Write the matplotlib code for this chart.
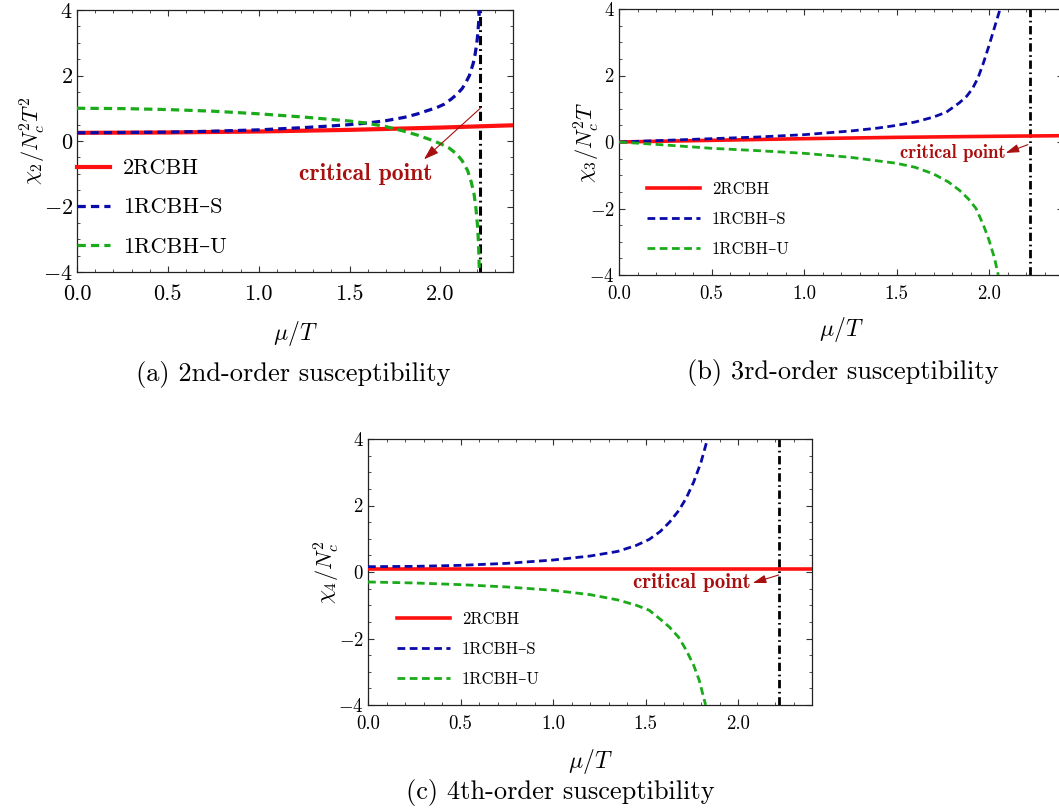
import matplotlib
matplotlib.use("Agg")
import matplotlib.pyplot as plt
import numpy as np

plt.rcParams['font.family'] = ['cmr10', 'DejaVu Serif']
plt.rcParams['mathtext.fontset'] = 'cm'
plt.rcParams['axes.formatter.use_mathtext'] = True
plt.rcParams['axes.unicode_minus'] = True

# ---- data ----
# (a) chi2 / Nc^2 T^2
a_red_x = [0.0, 0.5, 1.0, 1.5, 2.0, 2.4]
a_red_y = [0.25, 0.26, 0.29, 0.34, 0.41, 0.48]
a_blue_x = [0.0, 0.25, 0.5, 0.75, 1.0, 1.25, 1.4, 1.5, 1.6, 1.7, 1.8, 1.87, 1.93, 1.98, 2.02,
            2.06, 2.09, 2.12, 2.14, 2.16, 2.18, 2.19, 2.2, 2.205, 2.21, 2.215]
a_blue_y = [0.25, 0.26, 0.27, 0.3, 0.34, 0.41, 0.46, 0.5, 0.55, 0.62, 0.72, 0.82, 0.93, 1.02, 1.12,
            1.28, 1.42, 1.6, 1.78, 2.0, 2.35, 2.6, 2.95, 3.2, 3.55, 4.0]
a_green_x = [0.0, 0.25, 0.5, 0.75, 1.0, 1.25, 1.5, 1.6, 1.7, 1.8, 1.88, 1.95, 2.0, 2.05, 2.09,
             2.12, 2.15, 2.17, 2.185, 2.195, 2.205, 2.21, 2.215]
a_green_y = [1.0, 0.99, 0.96, 0.91, 0.83, 0.73, 0.61, 0.54, 0.44, 0.3, 0.17, 0.03, -0.08, -0.22, -0.4,
             -0.6, -0.9, -1.25, -1.6, -2.0, -2.6, -3.1, -4.0]

# (b) chi3 / Nc^2 T
b_red_x = [0.0, 0.5, 1.0, 1.5, 2.0, 2.4]
b_red_y = [0.0, 0.05, 0.1, 0.14, 0.17, 0.19]
b_blue_x = [0.0, 0.25, 0.5, 0.75, 1.0, 1.25, 1.4, 1.5, 1.6, 1.7, 1.77, 1.84, 1.88, 1.91, 1.94,
            1.97, 2.0, 2.03, 2.06]
b_blue_y = [0.0, 0.05, 0.1, 0.15, 0.22, 0.33, 0.42, 0.5, 0.6, 0.75, 0.9, 1.18, 1.38, 1.6, 1.92,
            2.38, 2.9, 3.45, 4.0]
b_green_x = [0.0, 0.25, 0.5, 0.75, 1.0, 1.25, 1.5, 1.6, 1.7, 1.78, 1.84, 1.89, 1.93, 1.97, 2.0,
             2.03, 2.05]
b_green_y = [0.0, -0.09, -0.19, -0.26, -0.34, -0.46, -0.64, -0.76, -0.96, -1.2, -1.45, -1.72, -2.0,
             -2.5, -2.95, -3.5, -4.0]

# (c) chi4 / Nc^2
c_red_x = [0.0, 0.5, 1.0, 1.5, 2.0, 2.4]
c_red_y = [0.1, 0.1, 0.1, 0.1, 0.1, 0.1]
c_blue_x = [0.0, 0.25, 0.5, 0.75, 1.0, 1.2, 1.35, 1.45, 1.52, 1.58, 1.63, 1.68, 1.72, 1.76,
            1.8, 1.835]
c_blue_y = [0.16, 0.17, 0.2, 0.26, 0.36, 0.48, 0.62, 0.8, 0.98, 1.22, 1.5, 1.85, 2.22, 2.7,
            3.3, 4.0]
c_green_x = [0.0, 0.25, 0.5, 0.75, 1.0, 1.2, 1.35, 1.45, 1.52, 1.58, 1.63, 1.68, 1.72, 1.76,
             1.79, 1.825]
c_green_y = [-0.3, -0.33, -0.38, -0.45, -0.55, -0.68, -0.84, -1.0, -1.15, -1.42, -1.66, -1.97,
             -2.35, -2.8, -3.25, -4.0]

mu_c = 2.22
labels = ['2RCBH', '1RCBH–S', '1RCBH–U']
ylabels = [r'$\chi_2/N_c^2T^2$', r'$\chi_3/N_c^2T$', r'$\chi_4/N_c^2$']
captions = ['(a) 2nd-order susceptibility', '(b) 3rd-order susceptibility',
            '(c) 4th-order susceptibility']

RED = '#ff1010'
BLUE = '#0a0aa8'
GREEN = '#1aaa1a'
DARKRED = '#a80f0f'

W, H = 1059, 809
fig = plt.figure(figsize=(W / 100, H / 100), dpi=100)


def px_axes(l, t, r, b):
    return fig.add_axes([l / W, 1 - b / H, (r - l) / W, (b - t) / H])


panels = [
    dict(box=(77, 10, 513, 272), red=(a_red_x, a_red_y), blue=(a_blue_x, a_blue_y),
         green=(a_green_x, a_green_y), fs=16, lfs=16, cfs=17, big=True,
         arrow=((2.22, 1.0), (1.91, -0.56)), text=(1.59, -1.0, 'center'),
         leg=(0.0, 0.432), cap=(293, 374), ylx=-0.067, xlp=11),
    dict(box=(619, 9, 1063, 275), red=(b_red_x, b_red_y), blue=(b_blue_x, b_blue_y),
         green=(b_green_x, b_green_y), fs=13.5, lfs=12, cfs=13.5, big=False,
         arrow=((2.21, -0.08), (2.09, -0.33)), text=(2.09, -0.33, 'right'),
         leg=(0.063, 0.351), cap=(843, 373), ylx=-0.039, xlp=9),
    dict(box=(368, 439, 812, 705), red=(c_red_x, c_red_y), blue=(c_blue_x, c_blue_y),
         green=(c_green_x, c_green_y), fs=13.5, lfs=12, cfs=15, big=False,
         arrow=((2.22, -0.09), (2.08, -0.33)), text=(2.07, -0.33, 'right'),
         leg=(0.065, 0.351), cap=(560, 793), ylx=-0.059, xlp=10),
]

for i, p in enumerate(panels):
    ax = px_axes(*p['box'])
    big = p['big']
    lw_r = 3.0 if big else 2.6
    lw_d = 2.3 if big else 2.0
    dash = (0, (2.6, 1.6)) if big else (0, (2.8, 1.6))
    ax.plot(*p['red'], color=RED, lw=lw_r, label=labels[0], zorder=3)
    ax.plot(*p['blue'], color=BLUE, lw=lw_d, ls=dash, label=labels[1], zorder=4)
    ax.plot(*p['green'], color=GREEN, lw=lw_d, ls=dash, label=labels[2], zorder=4)
    ax.axvline(mu_c, color='black', lw=2.2 if big else 2.0, ls=(0, (3.0, 1.3, 0.6, 1.3)), zorder=2)

    ax.set_xlim(0, 2.4)
    ax.set_ylim(-4, 4)
    ax.set_xticks([0, 0.5, 1.0, 1.5, 2.0])
    ax.set_xticklabels(['0.0', '0.5', '1.0', '1.5', '2.0'])
    ax.set_yticks([-4, -2, 0, 2, 4])
    ax.set_xticks(np.arange(0, 2.41, 0.1), minor=True)
    ax.set_yticks(np.arange(-4, 4.01, 0.5), minor=True)
    ax.tick_params(which='both', direction='in', top=True, right=True, color='#333333')
    ax.tick_params(which='major', length=4.5, width=0.8, labelsize=p['fs'])
    ax.tick_params(which='minor', length=2.5, width=0.6)
    ax.tick_params(axis='x', pad=9 if big else 7)
    ax.tick_params(axis='y', pad=3)
    for s in ax.spines.values():
        s.set_linewidth(0.9)
        s.set_color('#222222')

    ax.set_xlabel(r'$\mu/T$', fontsize=17, labelpad=p['xlp'])
    ax.set_ylabel(ylabels[i], fontsize=16)
    ax.yaxis.set_label_coords(p['ylx'], 0.5)

    ax.annotate('', xy=p['arrow'][1], xytext=p['arrow'][0],
                arrowprops=dict(arrowstyle='-|>,head_length=0.9,head_width=0.3' if big
                                else '-|>,head_length=0.8,head_width=0.25',
                                color=DARKRED, lw=0.8, shrinkA=0, shrinkB=0), zorder=6)
    tx, ty, ha = p['text']
    ax.text(tx, ty, 'critical point', family=['cmb10', 'DejaVu Serif'], fontsize=p['cfs'],
            color=DARKRED, ha=ha, va='center', zorder=6)

    leg = ax.legend(loc='upper left', bbox_to_anchor=p['leg'], frameon=False,
                    fontsize=p['lfs'], borderpad=0, borderaxespad=0,
                    handlelength=1.5 if big else 3.2, handletextpad=0.55 if big else 0.7,
                    labelspacing=0.88)

    fig.text(p['cap'][0] / W, 1 - p['cap'][1] / H, captions[i], fontsize=19,
             ha='center', va='center')

fig.savefig('out.png', dpi=100)
